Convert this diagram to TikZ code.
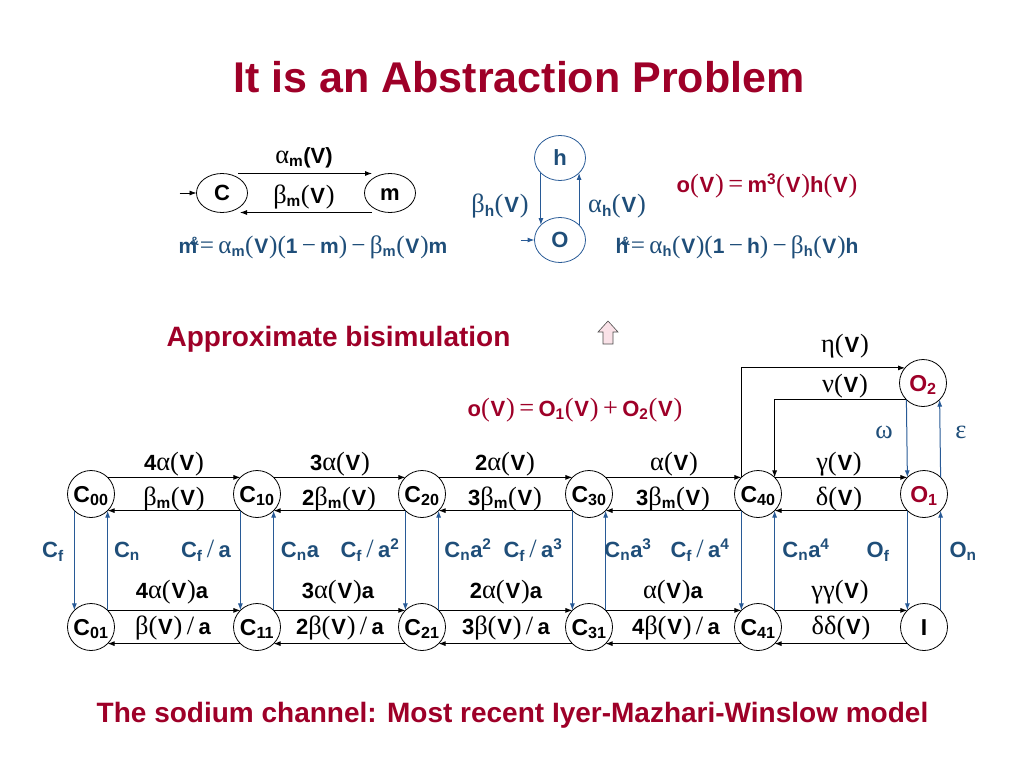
\documentclass[tikz,border=0pt]{standalone}
\usepackage{fontspec}
\setmainfont{Liberation Sans}
\newfontfamily\symf{Liberation Serif}[Scale=1.2]
\usetikzlibrary{arrows.meta,calc,shapes.geometric}
\definecolor{dred}{RGB}{158,0,40}
\definecolor{dblue}{RGB}{31,78,121}
\definecolor{lblue}{RGB}{40,90,150}
\definecolor{pinkf}{RGB}{250,226,232}
\newcommand\gk[1]{{\symf\mdseries #1}}
\newcommand\lo[1]{\textsubscript{#1}}
\newcommand\hi[1]{\textsuperscript{#1}}
\newcommand\pv{\gk{(}\kern0.8pt V\kern0.8pt\gk{)}}
\newcommand\dotamp{\kern-7pt\raisebox{8pt}{\fontsize{12}{12}\selectfont\&}\kern1pt}
\begin{document}
\begin{tikzpicture}[x=1pt,y=-1pt,
  every node/.style={inner sep=0pt, outer sep=0pt, font=\fontsize{22}{25}\selectfont\bfseries},
  lb/.style={anchor=base},
  st/.style={draw, circle, minimum size=47pt, line width=0.8pt, text height=16pt, text depth=0pt, font=\fontsize{23}{25}\selectfont\bfseries},
  ov/.style={draw, ellipse, line width=0.8pt, text height=15pt, text depth=0pt},
  ar/.style={-{Latex[length=7pt,width=5pt]}, line width=0.8pt},
  bar/.style={ar, draw=lblue, line width=1pt},
  bt/.style={lb, text=dblue},
  rt/.style={lb, text=dred}]
\useasboundingbox (0,0) rectangle (1024,768);

% title
\node[rt, font=\fontsize{43}{46}\selectfont\bfseries] (title) at (519,92) {It is an Abstraction Problem};

% m gate
\node[ov, minimum width=51pt, minimum height=39pt] (Cm) at (222,193) {C};
\node[ov, minimum width=51pt, minimum height=39pt] (mm) at (390,193) {m};
\draw[ar] ([xshift=16pt]Cm.north) -- ([xshift=-18pt]mm.north);
\draw[ar] ([xshift=-18pt]mm.south) -- ([xshift=18pt]Cm.south);
\draw[ar] ([xshift=-17pt]Cm.west) -- (Cm.west);
\node[lb] (am) at (304,163) {\gk{α}\lo{m}(V)};
\node[lb] (bm) at (304,203) {\gk{β}\lo{m}\pv};
\node[bt, font=\fontsize{21}{24}\selectfont\bfseries] (meq) at (313,253) {m\dotamp\gk{=\,}\gk{α}\lo{m}\pv\gk{(}1\gk{\,−\,}m\gk{)\,−\,}\gk{β}\lo{m}\pv m};

% h gate
\node[ov, draw=lblue, text=dblue, minimum width=51pt, minimum height=45pt] (hh) at (560,158) {h};
\node[ov, draw=lblue, text=dblue, minimum width=51pt, minimum height=45pt] (OO) at (560,240) {O};
\draw[bar] (hh.-142) -- (OO.142);
\draw[bar] (OO.38) -- (hh.-38);
\draw[bar] ([xshift=-14pt]OO.west) -- (OO.west);
\node[bt] (bh) at (500,212) {\gk{β}\lo{h}\pv};
\node[bt] (ah) at (617,212) {\gk{α}\lo{h}\pv};
\node[rt] (ov1) at (767,192) {o\pv\gk{\,=\,}m\hi{3}\pv h\pv};
\node[bt, font=\fontsize{21}{24}\selectfont\bfseries] (heq) at (737,253) {h\dotamp\gk{=\,}\gk{α}\lo{h}\pv\gk{(}1\gk{\,−\,}h\gk{)\,−\,}\gk{β}\lo{h}\pv h};

% middle
\node[rt, font=\fontsize{28}{30}\selectfont\bfseries] (apx) at (338.5,346) {Approximate bisimulation};
\draw[draw=black!70, fill=pinkf, line width=0.6pt] (608,321) -- (618,332) -- (613,332) -- (613,344) -- (603,344) -- (603,332) -- (598,332) -- cycle;
\node[rt] (ov2) at (575,416) {o\pv\gk{\,=\,}O\lo{1}\pv\gk{\,+\,}O\lo{2}\pv};

% chain nodes
\node[st] (C00) at (91,494) {C\lo{00}};
\node[st] (C10) at (257,494) {C\lo{10}};
\node[st] (C20) at (422,494) {C\lo{20}};
\node[st] (C30) at (589,494) {C\lo{30}};
\node[st] (C40) at (758,494) {C\lo{40}};
\node[st, text=dred] (O1) at (924,494) {O\lo{1}};
\node[st] (C01) at (91,627) {C\lo{01}};
\node[st] (C11) at (257,627) {C\lo{11}};
\node[st] (C21) at (422,627) {C\lo{21}};
\node[st] (C31) at (589,627) {C\lo{31}};
\node[st] (C41) at (758,627) {C\lo{41}};
\node[st] (I) at (924,627) {I};
\node[st, text=dred] (O2) at (923,383) {O\lo{2}};

\foreach \a/\b in {C00/C10,C10/C20,C20/C30,C30/C40,C40/O1,C01/C11,C11/C21,C21/C31,C31/C41,C41/I}{
  \draw[ar] (\a.45) -- (\b.135);
  \draw[ar] (\b.-135) -- (\a.-45);}
\foreach \a/\b in {C00/C01,C10/C11,C20/C21,C30/C31,C40/C41,O1/I}{
  \draw[bar] (\a.-135) -- (\b.135);
  \draw[bar] (\b.45) -- (\a.-45);}
\draw[ar] (C40.135) |- (O2.140);
\draw[ar] (O2.-135) -| (C40.45);
\draw[bar] (O2.-135) -- (O1.135);
\draw[bar] (O1.45) -- (O2.-45);

% O2 labels
\node[lb] (eta) at (845,352) {\gk{η}\pv};
\node[lb] (nu) at (845,392) {\gk{ν}\pv};
\node[bt] (om) at (884,438) {\gk{ω}};
\node[bt] (ep) at (961,438) {\gk{ε}};

% top row labels
\node[lb] at (174,470) {4\gk{α}\pv};
\node[lb] at (340,470) {3\gk{α}\pv};
\node[lb] at (505,470) {2\gk{α}\pv};
\node[lb] at (674,470) {\gk{α}\pv};
\node[lb] at (839,470) {\gk{γ}\pv};
\node[lb] at (174,505) {\gk{β}\lo{m}\pv};
\node[lb] at (339,505) {2\gk{β}\lo{m}\pv};
\node[lb] at (505,505) {3\gk{β}\lo{m}\pv};
\node[lb] at (673,505) {3\gk{β}\lo{m}\pv};
\node[lb] at (839,505) {\gk{δ}\pv};

% bottom row labels
\node[lb] at (172,598) {4\gk{α}\pv a};
\node[lb] at (338,598) {3\gk{α}\pv a};
\node[lb] at (506,598) {2\gk{α}\pv a};
\node[lb] at (673,598) {\gk{α}\pv a};
\node[lb] at (840,598) {\gk{γγ}\pv};
\node[lb] at (173,634) {\gk{β}\pv\gk{\,/\,}a};
\node[lb] at (340,634) {2\gk{β}\pv\gk{\,/\,}a};
\node[lb] at (506,634) {3\gk{β}\pv\gk{\,/\,}a};
\node[lb] at (676,634) {4\gk{β}\pv\gk{\,/\,}a};
\node[lb] at (841,634) {\gk{δδ}\pv};

% vertical labels
\node[bt] at (53,557) {C\lo{f}};
\node[bt] at (127,557) {C\lo{n}};
\node[bt] at (206,557) {C\lo{f}\gk{\,/\,}a};
\node[bt] at (300,557) {C\lo{n}a};
\node[bt] at (370,557) {C\lo{f}\gk{\,/\,}a\hi{2}};
\node[bt] at (468,557) {C\lo{n}a\hi{2}};
\node[bt] at (533,557) {C\lo{f}\gk{\,/\,}a\hi{3}};
\node[bt] at (628,557) {C\lo{n}a\hi{3}};
\node[bt] at (700,557) {C\lo{f}\gk{\,/\,}a\hi{4}};
\node[bt] at (806,557) {C\lo{n}a\hi{4}};
\node[bt] at (878,557) {O\lo{f}};
\node[bt] at (963,557) {O\lo{n}};

% bottom title
\node[rt, font=\fontsize{28}{30}\selectfont\bfseries] (foot) at (512.5,722) {The sodium channel: Most recent Iyer-Mazhari-Winslow model};
\end{tikzpicture}
\end{document}
